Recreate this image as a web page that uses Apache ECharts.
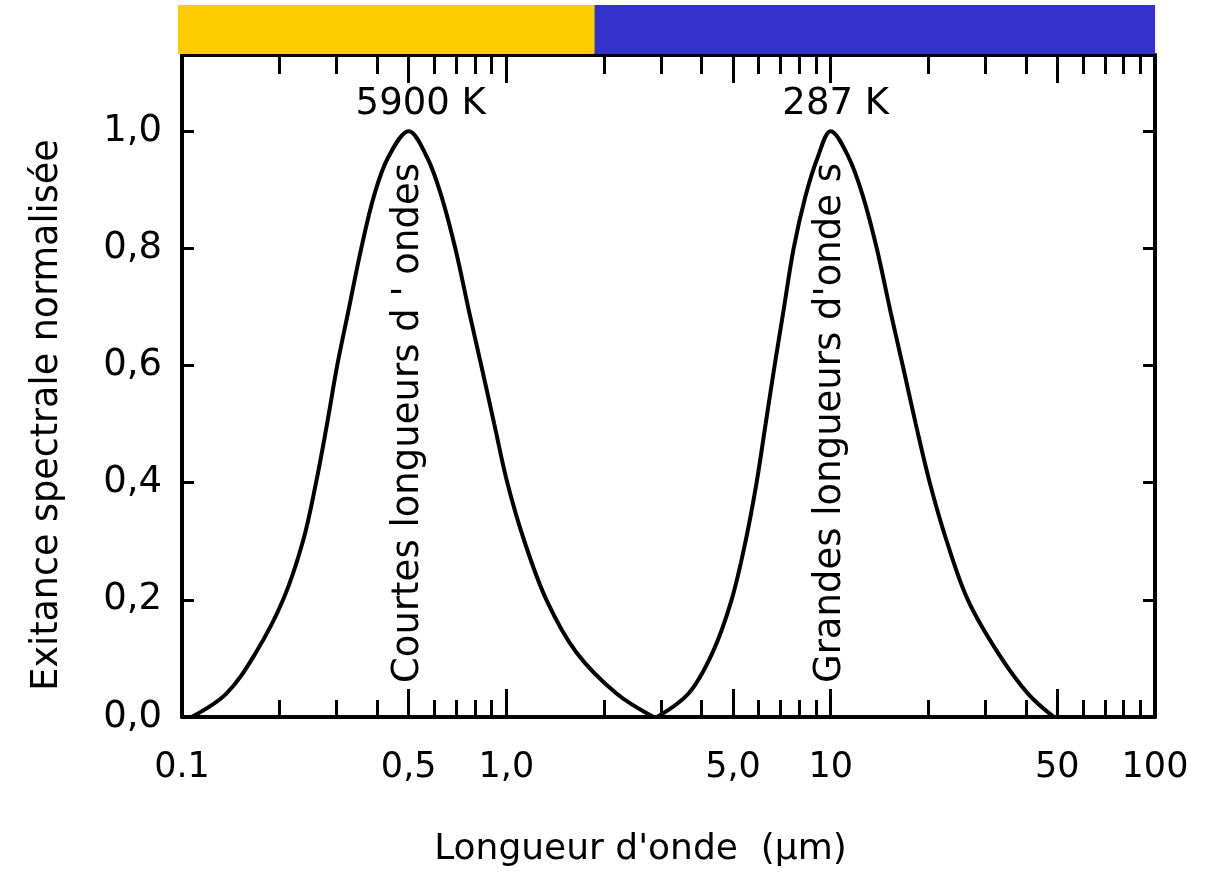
<!DOCTYPE html>
<html>
<head>
<meta charset="utf-8">
<script src="https://cdn.jsdelivr.net/npm/echarts@6/dist/echarts.min.js"></script>
<style>html,body{margin:0;padding:0;background:#fff;}#c{width:1209px;height:873px;}</style>
</head>
<body>
<div id="c"></div>
<script>
// Wavelength (µm) and normalised exitance
const waveSun = [0.107, 0.137, 0.169, 0.205, 0.236, 0.259, 0.280, 0.301, 0.325, 0.357, 0.391, 0.432, 0.50, 0.570, 0.630, 0.696, 0.769, 0.837, 0.918, 1.007, 1.137, 1.329, 1.645, 2.186, 2.843];
const valSun  = [0.0, 0.04, 0.11, 0.20, 0.30, 0.40, 0.50, 0.60, 0.69, 0.80, 0.89, 0.955, 1.0, 0.955, 0.89, 0.80, 0.69, 0.60, 0.50, 0.40, 0.30, 0.20, 0.11, 0.04, 0.0];
const waveEarth = [2.918, 3.645, 4.323, 4.949, 5.465, 5.910, 6.30, 6.717, 7.138, 7.689, 8.373, 9.117, 10.0, 11.37, 12.56, 13.87, 15.32, 16.68, 18.3, 20.21, 22.80, 26.48, 32.76, 40.56, 48.78];
const valEarth  = [0.0, 0.04, 0.11, 0.20, 0.30, 0.40, 0.50, 0.60, 0.69, 0.80, 0.89, 0.955, 1.0, 0.955, 0.89, 0.80, 0.69, 0.60, 0.50, 0.40, 0.30, 0.20, 0.11, 0.04, 0.0];

const xLabelValues = [0.1, 0.5, 1, 5, 10, 50, 100];
const xLabelTexts  = ['0.1', '0,5', '1,0', '5,0', '10', '50', '100'];
const xMajorTicks = [0.5, 1, 5, 10, 50];
const xMinorTicks = [0.2, 0.3, 0.4, 0.6, 0.7, 0.8, 0.9, 2, 3, 4, 6, 7, 8, 9, 20, 30, 40, 60, 70, 80, 90];
const yTickValues = [0, 0.2, 0.4, 0.6, 0.8, 1.0];

const bandLimits = [0.1, 1.9, 100];
const bandColors = ['#FFCC00', '#3333CC'];

const peakWaves = [0.5, 10];
const peakTexts = ['5900 K', '287 K'];
const regionWaves = [0.5, 10];
const regionTexts = ['Courtes longueurs d \' ondes', 'Grandes longueurs d\'onde s'];

// label style settings (pixels)
const peakLabelOffsets = [[12, 0], [5, 0]];

const L = Math.log10;
const FONT = 'DejaVu Sans';
const X_MIN = L(0.1), X_MAX = L(100), Y_MAX = 1.13;

function xFmt(v) {
  let best = 0, d = Infinity;
  xLabelValues.forEach((w, i) => { const dd = Math.abs(L(w) - v); if (dd < d) { d = dd; best = i; } });
  return d < 1e-6 ? xLabelTexts[best] : '';
}

function xAxisDef(pos, ticks, len, showLine, showLabel) {
  return {
    type: 'value', gridIndex: 0, position: pos, min: X_MIN, max: X_MAX,
    axisLine: { show: showLine, onZero: false, lineStyle: { color: '#000', width: 4 } },
    axisTick: { show: true, inside: true, length: len, customValues: ticks.map(L), lineStyle: { color: '#000', width: 3 } },
    axisLabel: showLabel ? { show: true, customValues: xLabelValues.map(L), formatter: xFmt, margin: 33, color: '#000', fontSize: 35, fontFamily: FONT } : { show: false },
    splitLine: { show: false },
    name: showLabel ? 'Longueur d\'onde  (µm)' : '',
    nameLocation: 'middle', nameGap: 115,
    nameTextStyle: { color: '#000', fontSize: 36, fontFamily: FONT, padding: [0, 56, 0, 0] }
  };
}

const chart = echarts.init(document.getElementById('c'), null, { renderer: 'canvas' });

const option = {
  backgroundColor: '#fff',
  animation: false,
  grid: [
    { left: 182, right: 54, top: 55, bottom: 156 },
    { left: 178, right: 54, top: 5, height: 49 }
  ],
  xAxis: [
    xAxisDef('bottom', xMajorTicks, 28, true, true),
    xAxisDef('bottom', xMinorTicks, 17, false, false),
    xAxisDef('top', xMajorTicks, 28, true, false),
    xAxisDef('top', xMinorTicks, 19, false, false),
    { type: 'value', gridIndex: 1, min: X_MIN, max: X_MAX, show: false }
  ],
  yAxis: [
    {
      type: 'value', gridIndex: 0, position: 'left', min: 0, max: Y_MAX,
      axisLine: { show: true, onZero: false, lineStyle: { color: '#000', width: 4 } },
      axisTick: { show: true, inside: true, length: 12, customValues: yTickValues, lineStyle: { color: '#000', width: 3 } },
      axisLabel: { customValues: yTickValues, formatter: v => v.toFixed(1).replace('.', ','), margin: 20, color: '#000', fontSize: 37, fontFamily: FONT },
      splitLine: { show: false },
      name: 'Exitance spectrale normalisée', nameLocation: 'middle', nameGap: 116,
      nameTextStyle: { color: '#000', fontSize: 36.5, fontFamily: FONT, padding: [0, 58, 0, 0] }
    },
    {
      type: 'value', gridIndex: 0, position: 'right', min: 0, max: Y_MAX,
      axisLine: { show: true, onZero: false, lineStyle: { color: '#000', width: 4 } },
      axisTick: { show: true, inside: true, length: 12, customValues: yTickValues, lineStyle: { color: '#000', width: 3 } },
      axisLabel: { show: false }, splitLine: { show: false }
    },
    { type: 'value', gridIndex: 1, min: 0, max: 1, show: false }
  ],
  series: [
    {
      type: 'line', name: '5900 K', xAxisIndex: 0, yAxisIndex: 0,
      data: waveSun.map((w, i) => [L(w), valSun[i]]),
      smooth: 0.35, symbol: 'none', lineStyle: { color: '#000', width: 4 }
    },
    {
      type: 'line', name: '287 K', xAxisIndex: 0, yAxisIndex: 0,
      data: waveEarth.map((w, i) => [L(w), valEarth[i]]),
      smooth: 0.35, symbol: 'none', lineStyle: { color: '#000', width: 4 }
    },
    {
      type: 'scatter', xAxisIndex: 0, yAxisIndex: 0, symbolSize: 0, silent: true,
      itemStyle: { opacity: 1 },
      data: peakWaves.map((w, i) => ({ value: [L(w), 1.045], name: peakTexts[i], label: { offset: peakLabelOffsets[i] } })),
      label: { show: true, position: 'inside', formatter: p => p.name, color: '#000', fontSize: 37, fontFamily: FONT }
    },
    {
      type: 'scatter', xAxisIndex: 0, yAxisIndex: 0, symbolSize: 0, silent: true,
      itemStyle: { opacity: 1 },
      data: regionWaves.map((w, i) => ({ value: [L(w), 0.058], name: regionTexts[i] })),
      label: { show: true, position: 'inside', rotate: 90, align: 'left', verticalAlign: 'middle', formatter: p => p.name, color: '#000', fontSize: 37, fontFamily: FONT }
    },
    {
      type: 'line', xAxisIndex: 4, yAxisIndex: 2, data: [[X_MIN, 0]], symbol: 'none', lineStyle: { opacity: 0 }, silent: true,
      markArea: {
        silent: true,
        data: bandColors.map((c, i) => [
          { xAxis: L(bandLimits[i]), yAxis: 0, itemStyle: { color: c } },
          { xAxis: L(bandLimits[i + 1]), yAxis: 1 }
        ])
      }
    }
  ]
};
chart.setOption(option);
</script>
</body>
</html>
